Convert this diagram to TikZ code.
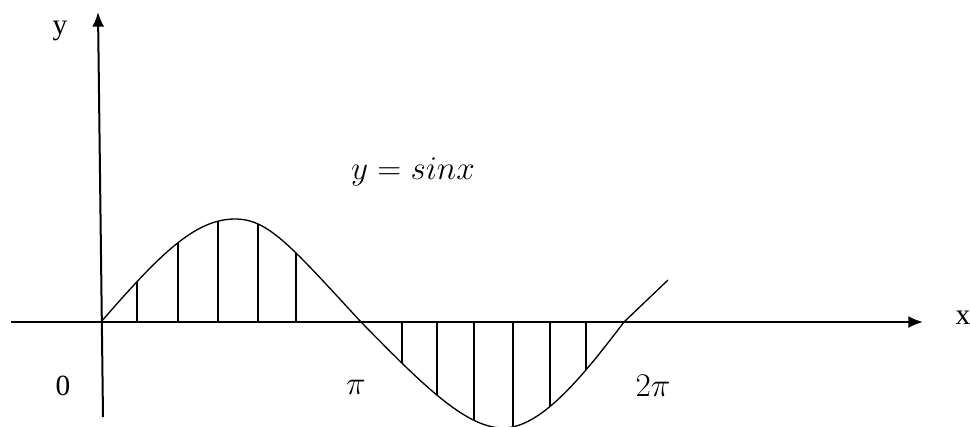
\documentclass[tikz,border=0pt]{standalone}
\usepackage{fontspec}
\setmainfont{Liberation Serif}
\usetikzlibrary{arrows.meta,intersections}
\begin{document}
\begin{tikzpicture}[x=0.75pt,y=-0.75pt,
  axis/.style={line width=1.5pt,-{Latex[length=11pt,width=9pt]}},
  curve/.style={line width=1pt},
  hatch/.style={line width=1.2pt},
  lbl/.style={inner sep=0pt,font=\fontsize{22}{24}\selectfont},
  mlbl/.style={inner sep=0pt,font=\fontsize{25}{28}\selectfont}]
\useasboundingbox (0,0) rectangle (970,426);
\coordinate (xs) at (11,322);
\coordinate (xe) at (923,322);
\coordinate (ys) at (103,417);
\coordinate (ye) at (98,12);
\draw[axis] (xs) -- (xe);
\draw[axis] (ys) -- (ye);
\draw[curve,name path=sine] (101,322) .. controls (160,254) and (195,219) .. (235,219)
  .. controls (268,219) and (290,245) .. (361,322)
  .. controls (420,382) and (465,428) .. (503,428)
  .. controls (540,428) and (580,380) .. (624,322)
  -- (668,280);
\foreach \h in {137,178,218,258,296,402,437,474,513,550,586}{
  \path[name path=v\h] (\h,100) -- (\h,440);
  \draw[hatch,name intersections={of=sine and v\h,by=p\h}] (\h,322) -- (p\h);
}
\node[lbl] (ylab) at (60,31) {y};
\node[lbl] (xlab) at (963,318) {x};
\node[lbl] (zero) at (63,386) {0};
\node[mlbl] (pi) at (356,387) {$\pi$};
\node[mlbl] (twopi) at (653,386) {$2\pi$};
\node[mlbl] (eq) at (413,172) {$y = sinx$};
\end{tikzpicture}
\end{document}
